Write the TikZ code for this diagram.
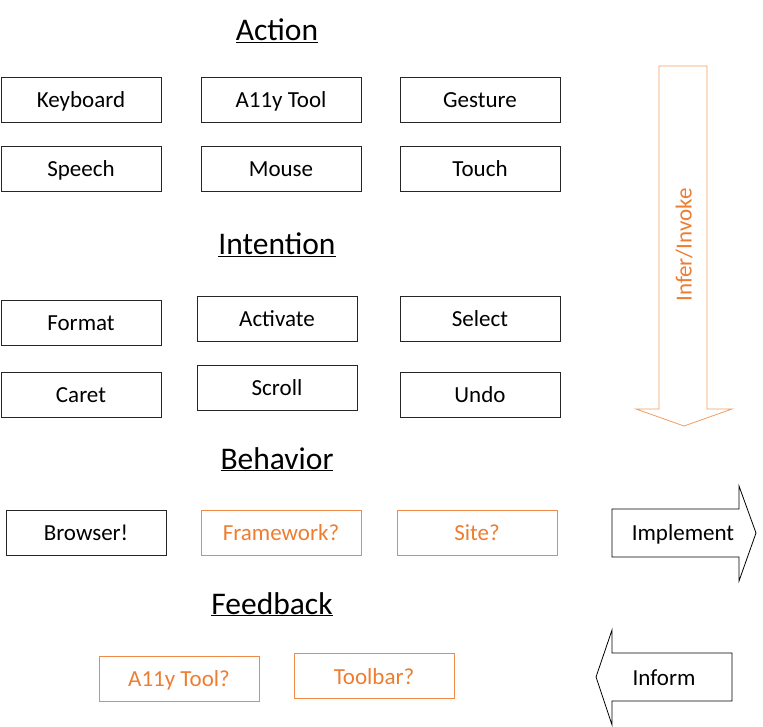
\documentclass[tikz,border=0pt]{standalone}
\usepackage{fontspec}
\setmainfont{Carlito}
\definecolor{accent}{HTML}{ED7D31}
\definecolor{accentline}{HTML}{EE8A45}

\tikzset{
    item/.style={shape=rectangle, draw=black!85, line width=0.8pt, minimum width=160pt, minimum height=45pt, inner sep=0pt, font=\fontsize{23}{28}\selectfont, text height=16pt, text depth=0pt},
    guess/.style={item, draw=accentline, text=accent},
    heading/.style={anchor=base, inner sep=0pt, font=\fontsize{31.5}{36}\selectfont},
    arrowtext/.style={inner sep=0pt, font=\fontsize{23}{28}\selectfont},
    bigarrow/.style={line width=0.8pt, line join=miter}
}

\begin{document}
\begin{tikzpicture}[x=1pt, y=-1pt]
    \useasboundingbox (0,0) rectangle (763,727);

    % Action
    \node[heading] (action) at (277,41) {\underline{Action}};
    \node[item] (keyboard) at (81,99.5) {Keyboard};
    \node[item] (ally) at (281,99.5) {A11y Tool};
    \node[item] (gesture) at (480,99.5) {Gesture};
    \node[item] (speech) at (81,168.5) {Speech};
    \node[item] (mouse) at (281,168.5) {Mouse};
    \node[item] (touch) at (480,168.5) {Touch};

    % Intention
    \node[heading] (intention) at (277,255) {\underline{Intention}};
    \node[item] (format) at (81,322.5) {Format};
    \node[item] (activate) at (277,318.5) {Activate};
    \node[item] (select) at (480,318.5) {Select};
    \node[item] (caret) at (81,394.5) {Caret};
    \node[item] (scroll) at (277,387.5) {Scroll};
    \node[item] (undo) at (480,394.5) {Undo};

    % Behavior
    \node[heading] (behavior) at (277,469) {\underline{Behavior}};
    \node[item] (browser) at (86,532.5) {Browser!};
    \node[guess] (framework) at (281,532.5) {Framework?};
    \node[guess] (site) at (477,532.5) {Site?};

    % Feedback
    \node[heading] (feedback) at (272,614) {\underline{Feedback}};
    \node[guess] (allyq) at (179,678.5) {A11y Tool?};
    \node[guess] (toolbar) at (374,676) {Toolbar?};

    % big arrows
    \draw[bigarrow, draw=accentline!85] (659,66) -- (707,66) -- (707,409) -- (732,409)
        -- (684,426) -- (636,409) -- (659,409) -- cycle;
    \node[arrowtext, text=accent, rotate=90] (infer) at (684,245) {Infer/Invoke};

    \draw[bigarrow] (612,509) -- (739,509) -- (739,486) -- (756,533)
        -- (739,581) -- (739,557) -- (612,557) -- cycle;
    \node[arrowtext] (implement) at (683,534) {Implement};

    \draw[bigarrow] (732,653) -- (612,653) -- (612,630) -- (596,677)
        -- (612,725) -- (612,701) -- (732,701) -- cycle;
    \node[arrowtext] (inform) at (664,678) {Inform};
\end{tikzpicture}
\end{document}
